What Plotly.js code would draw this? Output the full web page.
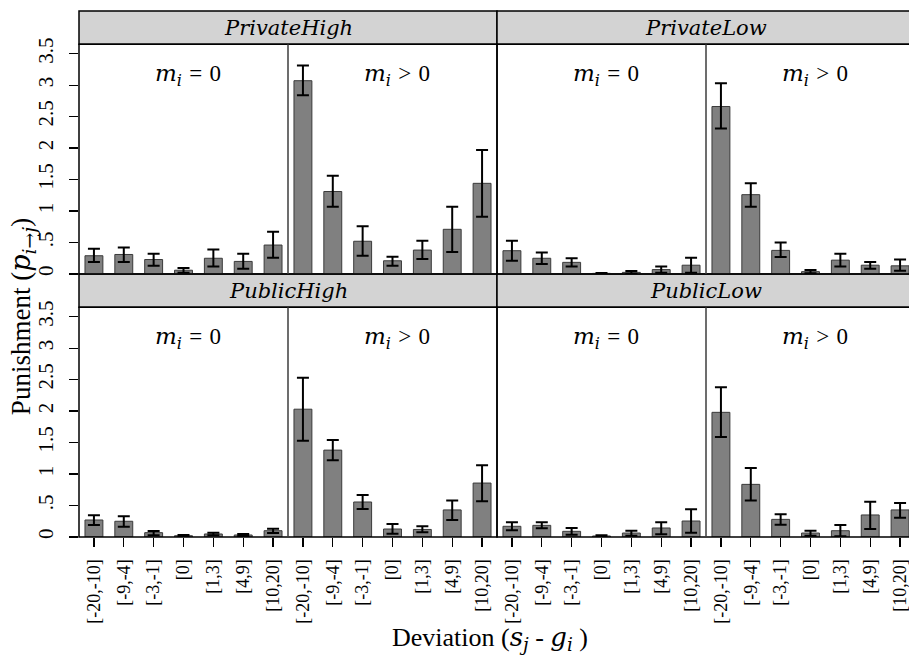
<!DOCTYPE html>
<html>
<head>
<meta charset="utf-8">
<script src="https://cdn.plot.ly/plotly-3.0.1.min.js"></script>
<style>
html,body{margin:0;padding:0;overflow:hidden;background:#fff;width:909px;height:657px;}
#chart{width:925px;height:657px;}
</style>
</head>
<body>
<div id="chart"></div>
<script>
// ---- data ----
const deviationBins = ["[-20,-10]","[-9,-4]","[-3,-1]","[0]","[1,3]","[4,9]","[10,20]"];
const panelNames = ["PrivateHigh","PrivateLow","PublicHigh","PublicLow"];

const privateHighMean = [0.29,0.31,0.23,0.06,0.25,0.20,0.46, 3.07,1.31,0.52,0.21,0.38,0.71,1.44];
const privateHighLo   = [0.19,0.19,0.13,0.02,0.12,0.085,0.26, 2.84,1.07,0.29,0.13,0.24,0.35,0.91];
const privateHighHi   = [0.40,0.42,0.32,0.095,0.39,0.32,0.67, 3.31,1.56,0.76,0.275,0.53,1.07,1.97];

const privateLowMean = [0.37,0.25,0.185,0.01,0.026,0.07,0.14, 2.66,1.26,0.375,0.037,0.22,0.14,0.13];
const privateLowLo   = [0.21,0.16,0.12,0.005,0.005,0.02,0.02, 2.31,1.07,0.27,0.01,0.12,0.085,0.05];
const privateLowHi   = [0.53,0.34,0.25,0.015,0.048,0.12,0.26, 3.03,1.44,0.50,0.063,0.32,0.19,0.23];

const publicHighMean = [0.27,0.25,0.069,0.02,0.048,0.032,0.10, 2.03,1.38,0.556,0.127,0.12,0.43,0.857];
const publicHighLo   = [0.19,0.164,0.026,0.01,0.026,0.016,0.063, 1.53,1.22,0.444,0.053,0.074,0.27,0.566];
const publicHighHi   = [0.344,0.33,0.095,0.03,0.069,0.048,0.13, 2.53,1.54,0.667,0.206,0.17,0.58,1.14];

const publicLowMean = [0.17,0.185,0.09,0.016,0.063,0.143,0.254, 1.98,0.836,0.28,0.063,0.10,0.35,0.43];
const publicLowLo   = [0.106,0.138,0.037,0.01,0.02,0.042,0.069, 1.59,0.58,0.196,0.02,0.01,0.127,0.307];
const publicLowHi   = [0.233,0.233,0.143,0.026,0.10,0.233,0.44, 2.38,1.095,0.36,0.10,0.19,0.56,0.54];

const yTickVals = [0,0.5,1,1.5,2,2.5,3,3.5];
const yTickText = ["0",".5","1","1.5","2","2.5","3","3.5"];

// ---- build ----
const tickText = deviationBins.concat(deviationBins);
const xPos = tickText.map((_, i) => i);
const FONT = "'Liberation Serif', 'DejaVu Serif', serif";
const IFONT = "'DejaVu Serif', serif";

const panels = [
  {name: panelNames[0], mean: privateHighMean, lo: privateHighLo, hi: privateHighHi, xa:'x',  ya:'y',  xd:[0,0.5], yd:[0.5,0.937], left:true,  bottom:false},
  {name: panelNames[1], mean: privateLowMean,  lo: privateLowLo,  hi: privateLowHi,  xa:'x2', ya:'y2', xd:[0.5,1], yd:[0.5,0.937], left:false, bottom:false},
  {name: panelNames[2], mean: publicHighMean,  lo: publicHighLo,  hi: publicHighHi,  xa:'x3', ya:'y3', xd:[0,0.5], yd:[0,0.437],   left:true,  bottom:true},
  {name: panelNames[3], mean: publicLowMean,   lo: publicLowLo,   hi: publicLowHi,   xa:'x4', ya:'y4', xd:[0.5,1], yd:[0,0.437],   left:false, bottom:true}
];

const traces = [];
const layout = {
  width: 925, height: 657,
  margin: {l:79, r:10, t:11, b:120},
  paper_bgcolor:'#fff', plot_bgcolor:'#fff',
  showlegend:false,
  font:{family:FONT, color:'#000'},
  shapes:[], annotations:[]
};

panels.forEach((p, k) => {
  traces.push({
    type:'bar', x:xPos, y:p.mean, xaxis:p.xa, yaxis:p.ya, width:0.6,
    marker:{color:'#808080', line:{color:'#3a3a3a', width:1}},
    error_y:{type:'data', symmetric:false,
      array:p.hi.map((h,i)=>h-p.mean[i]),
      arrayminus:p.mean.map((m,i)=>m-p.lo[i]),
      color:'#000', thickness:2, width:6},
    hoverinfo:'skip'
  });
  const sfx = k===0 ? '' : String(k+1);
  layout['xaxis'+sfx] = {
    domain:p.xd, range:[-0.5,13.5], anchor:p.ya, fixedrange:true,
    showgrid:false, zeroline:false, showline:false,
    tickmode:'array', tickvals:xPos, ticktext:tickText,
    ticks: p.bottom ? 'outside' : '', ticklen:9, tickwidth:1.2, tickcolor:'#000',
    showticklabels:p.bottom, tickangle:-90, ticklabelstandoff:5,
    tickfont:{family:FONT, size:18, color:'#000'}
  };
  layout['yaxis'+sfx] = {
    domain:p.yd, range:[0,3.651], anchor:p.xa, fixedrange:true,
    showgrid:false, zeroline:false, showline:false,
    tickmode:'array', tickvals:yTickVals, ticktext:yTickText,
    ticks: p.left ? 'outside' : '', ticklen:9, tickwidth:1.2, tickcolor:'#000',
    showticklabels:p.left, tickangle:-90, ticklabelstandoff:8,
    tickfont:{family:FONT, size:21, color:'#000'}
  };
  // strip
  layout.shapes.push({type:'rect', xref:'paper', yref:'paper',
    x0:p.xd[0], x1:p.xd[1], y0:p.yd[1], y1:p.yd[1]+0.063,
    fillcolor:'#d3d3d3', line:{color:'#000', width:1.5}, layer:'below'});
  // panel border
  layout.shapes.push({type:'rect', xref:'paper', yref:'paper',
    x0:p.xd[0], x1:p.xd[1], y0:p.yd[0], y1:p.yd[1],
    fillcolor:'rgba(0,0,0,0)', line:{color:'#000', width:1.5}, layer:'above'});
  // divider between conditions
  layout.shapes.push({type:'line', xref:p.xa, yref:p.ya+' domain',
    x0:6.5, x1:6.5, y0:0, y1:1, line:{color:'#3c3c3c', width:1.5}, layer:'above'});
  // strip label
  layout.annotations.push({xref:'paper', yref:'paper',
    x:(p.xd[0]+p.xd[1])/2, y:p.yd[1]+0.0315, xanchor:'center', yanchor:'middle',
    text:'<i>'+p.name+'</i>', showarrow:false, font:{family:IFONT, size:21, color:'#000'}});
  // condition labels
  layout.annotations.push({xref:p.xa, yref:p.ya, x:3.15, y:3.16,
    xanchor:'center', yanchor:'middle', showarrow:false,
    text:'<i>m</i><sub><i>i</i></sub> <span style="font-family:\'Liberation Serif\'">=</span> <span style="font-family:\'Liberation Serif\'">0</span>',
    font:{family:IFONT, size:23, color:'#000'}});
  layout.annotations.push({xref:p.xa, yref:p.ya, x:10.15, y:3.16,
    xanchor:'center', yanchor:'middle', showarrow:false,
    text:'<i>m</i><sub><i>i</i></sub> <span style="font-family:\'Liberation Serif\'">&gt;</span> <span style="font-family:\'Liberation Serif\'">0</span>',
    font:{family:IFONT, size:23, color:'#000'}});
});

// axis titles
layout.annotations.push({xref:'paper', yref:'paper', x:0.5, y:0, yshift:-101, xshift:-7,
  xanchor:'center', yanchor:'middle', showarrow:false,
  text:'Deviation (<span style="font-family:\'DejaVu Serif\'"><i>s</i><sub><i>j</i></sub></span> - <span style="font-family:\'DejaVu Serif\'"><i>g</i><sub><i>i</i></sub></span> )',
  font:{family:FONT, size:26, color:'#000'}});
layout.annotations.push({xref:'paper', yref:'paper', x:0, xshift:-57, y:0.418,
  xanchor:'center', yanchor:'middle', showarrow:false, textangle:-90,
  text:'Punishment (<span style="font-family:\'DejaVu Serif\'"><i>p</i><sub><i>i→j</i></sub></span>)',
  font:{family:FONT, size:27, color:'#000'}});

Plotly.newPlot('chart', traces, layout, {staticPlot:true, displayModeBar:false});
</script>
</body>
</html>
